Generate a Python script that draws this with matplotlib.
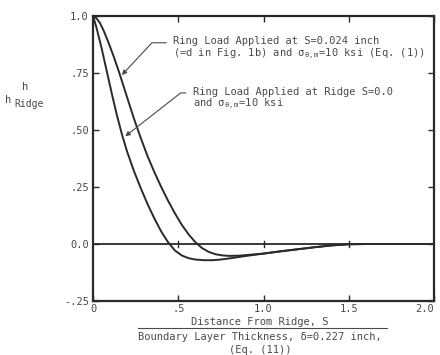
import matplotlib
matplotlib.use("Agg")
import matplotlib.pyplot as plt

plt.rcParams["font.family"] = ["DejaVu Sans Mono"]
plt.rcParams["mathtext.fontset"] = "custom"
plt.rcParams["mathtext.rm"] = "DejaVu Sans Mono"
plt.rcParams["mathtext.it"] = "DejaVu Sans Mono"

# curve: ring load applied at ridge S=0.0
ridge_x = [0.0, 0.02, 0.05, 0.08, 0.11, 0.14, 0.17, 0.20, 0.24, 0.28, 0.32, 0.36,
           0.40, 0.44, 0.48, 0.52, 0.56, 0.60, 0.65, 0.70, 0.75, 0.80, 0.90, 1.0,
           1.1, 1.2, 1.3, 1.4, 1.5, 1.6, 2.0]
ridge_y = [1.0, 0.95, 0.86, 0.76, 0.66, 0.565, 0.48, 0.405, 0.32, 0.245, 0.175, 0.112,
           0.055, 0.008, -0.028, -0.05, -0.062, -0.068, -0.071, -0.071, -0.068, -0.063,
           -0.052, -0.042, -0.032, -0.023, -0.014, -0.006, -0.001, 0.0, 0.0]

# ring load applied at S=0.024 inch
offset_x = [0.0, 0.02, 0.04, 0.06, 0.09, 0.12, 0.15, 0.18, 0.21, 0.24, 0.28, 0.32,
            0.36, 0.40, 0.44, 0.48, 0.52, 0.56, 0.60, 0.64, 0.68, 0.72, 0.76, 0.80,
            0.86, 0.92, 1.0, 1.1, 1.2, 1.3, 1.4, 1.5, 1.6, 2.0]
offset_y = [1.0, 0.99, 0.97, 0.94, 0.885, 0.825, 0.76, 0.69, 0.62, 0.55, 0.465, 0.385,
            0.315, 0.25, 0.19, 0.135, 0.085, 0.043, 0.008, -0.018, -0.035, -0.045,
            -0.05, -0.052, -0.051, -0.047, -0.042, -0.032, -0.023, -0.014, -0.006,
            -0.001, 0.0, 0.0]

x_ticks = [0, 0.5, 1.0, 1.5, 2.0]
x_labels = ["0", ".5", "1.0", "1.5", "2.0"]
y_ticks = [-0.25, 0.0, 0.25, 0.5, 0.75, 1.0]
y_labels = ["-.25", "0.0", ".25", ".50", ".75", "1.0"]

ink = "#2a2a2a"
text_ink = "#4a4a4a"

fig = plt.figure(figsize=(4.4, 3.55), dpi=100)
ax = fig.add_axes([0.2114, 0.152, 0.775, 0.803])

ax.plot(ridge_x, ridge_y, color=ink, linewidth=1.4, solid_joinstyle="round")
ax.plot(offset_x, offset_y, color=ink, linewidth=1.4, solid_joinstyle="round")
ax.axhline(0.0, color=ink, linewidth=1.3)
# small tick marks crossing the zero line
for xt in x_ticks[1:-1]:
    ax.plot([xt, xt], [-0.012, 0.012], color=ink, linewidth=1.0)

ax.set_xlim(0, 2.0)
ax.set_ylim(-0.25, 1.0)
ax.set_xticks(x_ticks)
ax.set_xticklabels(x_labels)
ax.set_yticks(y_ticks)
ax.set_yticklabels(y_labels)
ax.tick_params(direction="in", length=4, width=1.0, color=ink, labelsize=7.5,
               labelcolor=text_ink, top=True, right=True, pad=3)
ax.tick_params(axis="x", pad=2)
ax.get_xticklabels()[-1].set_horizontalalignment("right")
for spine in ax.spines.values():
    spine.set_linewidth(1.6)
    spine.set_color(ink)

ax.annotate(
    "Ring Load Applied at S=0.024 inch\n(=d in Fig. 1b) and σ$_{θ,m}$=10 ksi (Eq. (1))",
    xy=(0.158, 0.732), xytext=(0.47, 0.855), fontsize=7.5, color=text_ink,
    va="center", ha="left", linespacing=1.0,
    arrowprops=dict(arrowstyle="-|>", color=text_ink, linewidth=0.8, shrinkA=3,
                    mutation_scale=7, connectionstyle="angle,angleA=0,angleB=47,rad=0",
                    relpos=(0.0, 0.75)),
)
ax.annotate(
    "Ring Load Applied at Ridge S=0.0\nand σ$_{θ,m}$=10 ksi",
    xy=(0.176, 0.465), xytext=(0.585, 0.635), fontsize=7.5, color=text_ink,
    va="center", ha="left", linespacing=1.0,
    arrowprops=dict(arrowstyle="-|>", color=text_ink, linewidth=0.8, shrinkA=3,
                    mutation_scale=7, connectionstyle="angle,angleA=0,angleB=38,rad=0",
                    relpos=(0.0, 0.75)),
)

# y label: h over h_Ridge
fig.text(25 / 440, 1 - 87 / 355, "h", fontsize=7.5, color=text_ink, ha="center", va="center")
fig.text(5 / 440, 1 - 100 / 355, "h", fontsize=7.5, color=text_ink, ha="left", va="center")
fig.text(14 / 440, 1 - 104 / 355, "Ridge", fontsize=7, color=text_ink, ha="left", va="center")

# x label as a fraction
ax.text(0.49, -0.075, "Distance From Ridge, S", transform=ax.transAxes, fontsize=7.5,
        color=text_ink, ha="center", va="center")
ax.plot([0.132, 0.862], [-0.095, -0.095], transform=ax.transAxes, color=text_ink,
        linewidth=0.8, clip_on=False)
ax.text(0.49, -0.126, "Boundary Layer Thickness, δ=0.227 inch,", transform=ax.transAxes,
        fontsize=7.5, color=text_ink, ha="center", va="center")
ax.text(0.49, -0.172, "(Eq. (11))", transform=ax.transAxes, fontsize=7.5,
        color=text_ink, ha="center", va="center")

fig.savefig("out.png", dpi=100)
